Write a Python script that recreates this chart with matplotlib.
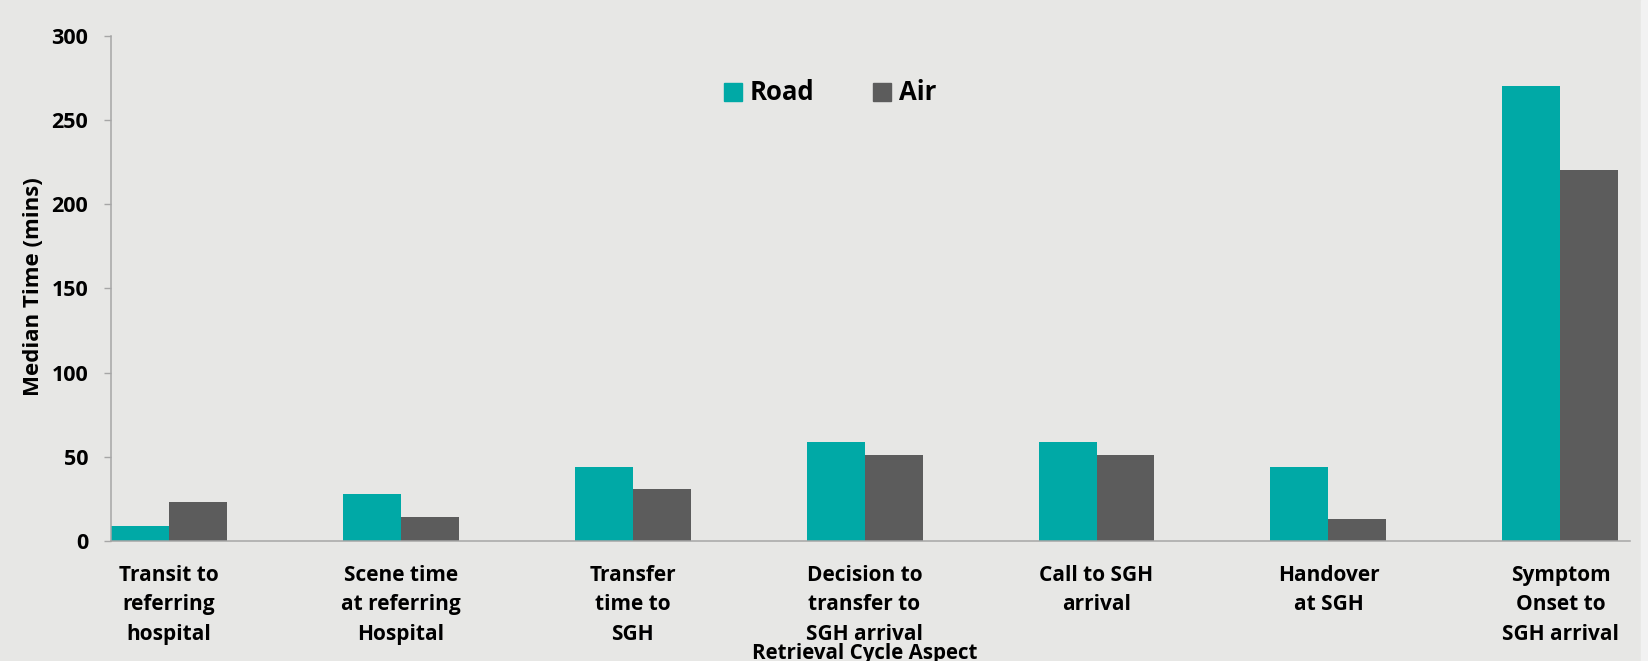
"""Median retrieval-cycle times, road vs air transfer (grouped bars)."""

import numpy as np
import matplotlib
matplotlib.use("Agg")
import matplotlib.pyplot as plt
from matplotlib.patches import Patch, Rectangle

# ---------------------------------------------------------------------------
# Data
# ---------------------------------------------------------------------------
CATEGORIES = [
    "Transit to\nreferring\nhospital",
    "Scene time\nat referring\nHospital",
    "Transfer\ntime to\nSGH",
    "Decision to\ntransfer to\nSGH arrival",
    "Call to SGH\narrival",
    "Handover\nat SGH",
    "Symptom\nOnset to\nSGH arrival",
]
ROAD = [9, 28, 44, 59, 59, 44, 270]
AIR = [23, 14, 31, 51, 51, 13, 220]
SERIES = ["Road", "Air"]
Y_TICKS = [0, 50, 100, 150, 200, 250, 300]

# ---------------------------------------------------------------------------
# Style
# ---------------------------------------------------------------------------
BG = "#E7E7E5"
TEAL = "#00A9A6"
GREY = "#5C5C5C"
AXIS_C = "#A6A6A6"
FONT = ["Open Sans", "DejaVu Sans"]

plt.rcParams["font.family"] = FONT
plt.rcParams["font.weight"] = "bold"

W, H = 1649, 661
fig = plt.figure(figsize=(W / 100, H / 100), dpi=100, facecolor=BG)
fig.patches.append(Rectangle((1641 / W, 0), 1 - 1641 / W, 1,
                             transform=fig.transFigure, color="#F2F2F2",
                             zorder=-1))

ax = fig.add_axes([110.7 / W, 1 - 541 / H, (1630 - 110.7) / W, (541 - 35.7) / H])
ax.set_facecolor(BG)

x = np.arange(len(CATEGORIES))
bw = 0.25
ax.bar(x - bw / 2, ROAD, width=bw, color=TEAL, zorder=2)
ax.bar(x + bw / 2, AIR, width=bw, color=GREY, zorder=2)

ax.set_xlim(-0.25, 6.3)
ax.set_ylim(0, 300)
ax.set_yticks(Y_TICKS)
ax.set_xticks(x)
ax.set_xticklabels(CATEGORIES, fontsize=15, fontweight="bold", linespacing=1.55)
ax.tick_params(axis="x", length=0, pad=17)
ax.tick_params(axis="y", length=5.3, width=1, color=AXIS_C, pad=11,
               labelsize=15.5)
for lab in ax.get_yticklabels():
    lab.set_fontweight("bold")

for s in ("top", "right"):
    ax.spines[s].set_visible(False)
for s in ("left", "bottom"):
    ax.spines[s].set_color(AXIS_C)
    ax.spines[s].set_linewidth(1.1)

fig.text(34 / W, 1 - 287 / H, "Median Time (mins)", rotation=90,
         ha="center", va="center", fontsize=16, fontweight="bold")
fig.text(865 / W, 1 - 643 / H, "Retrieval Cycle Aspect", ha="center",
         va="top", fontsize=14.8, fontweight="bold")

handles = [Patch(color=TEAL), Patch(color=GREY)]
fig.legend(handles, SERIES, loc="center left",
           bbox_to_anchor=(724 / W, 1 - 93 / H), ncol=2, frameon=False,
           borderpad=0, borderaxespad=0, handlelength=0.7, handleheight=0.7,
           handletextpad=0.3, columnspacing=2.3,
           prop={"family": FONT, "weight": "bold", "size": 18.5})

fig.savefig("out.png", dpi=100, facecolor=BG)
